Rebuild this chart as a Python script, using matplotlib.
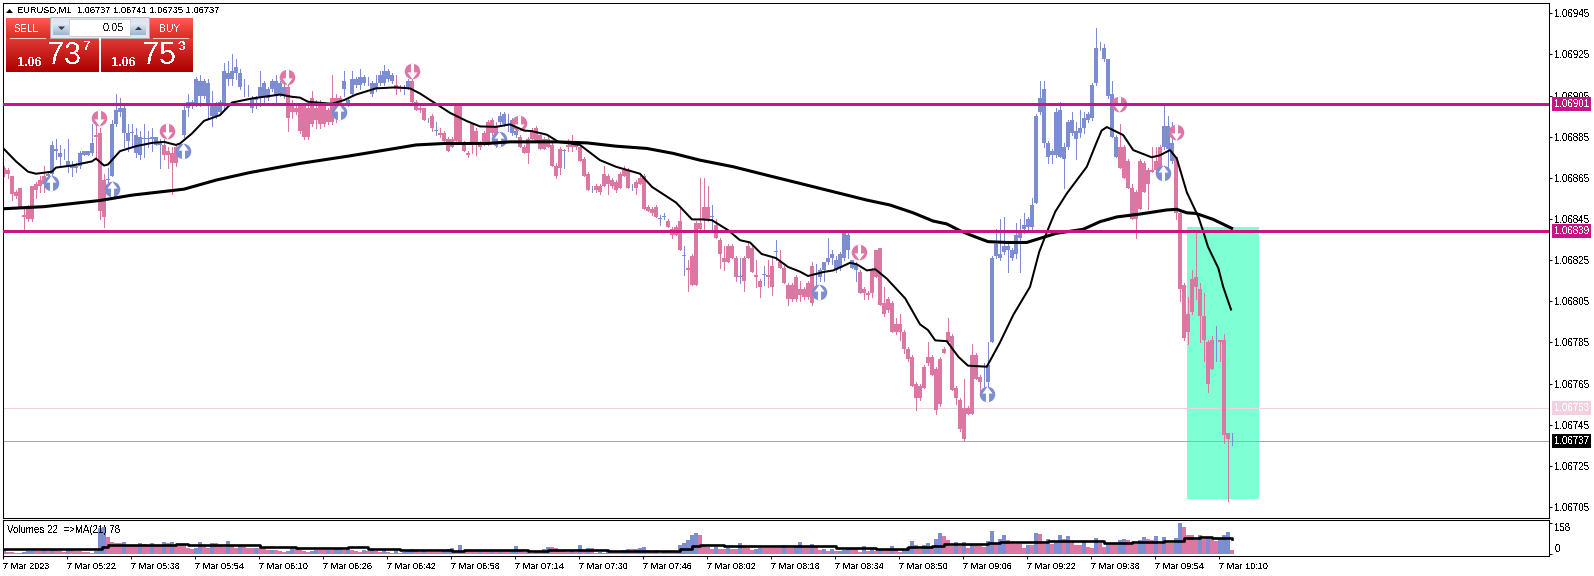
import numpy as np
import matplotlib
matplotlib.use('Agg')
import matplotlib.pyplot as plt
from matplotlib.path import Path
from matplotlib.patches import Rectangle, Polygon
from matplotlib.transforms import blended_transform_factory

plt.rcParams['font.family'] = ['Liberation Sans', 'DejaVu Sans']
plt.rcParams['text.antialiased'] = False

# prices are kept as fifth-decimal points above 1.06, so 737 is 1.06737
opens = [870,869,866,858,860,847,850,861,862,864, 866,866,867,878,875,875,871,870,870,871,
         876,876,877,886,887,864,864,866,891,897, 887,883,887,877,876,884,884,884,881,881,
         881,878,877,880,877,886,899,900,901,905, 905,901,895,895,897,900,913,913,916,909,
         909,908,899,903,904,905,904,908,905,906, 905,909,900,899,900,900,899,904,899,901,
         900,898,904,904,904,908,901,906,910,910, 911,912,906,908,911,911,913,912,910,909,
         908,909,912,902,899,899,893,895,888,887, 887,884,884,900,900,882,877,891,888,882,
         887,892,893,890,892,891,894,887,886,885, 880,884,888,889,886,884,884,881,871,879,
         878,881,881,881,880,874,867,860,861,861, 867,866,864,863,867,869,869,860,863,865,
         866,851,850,851,845,846,844,840,841,844, 827,821,827,843,843,851,851,846,842,835,
         826,832,832,826,817,826,832,831,818,815, 818,818,822,829,824,821,813,813,817,811,
         811,814,822,820,817,820,824,826,820,821, 826,830,821,820,819,811,809,820,830,831,
         804,806,804,794,794,790,782,778,765,764, 773,778,778,772,777,782,790,788,763,757,
         753,753,779,779,768,769,766,785,827,826, 829,830,826,828,836,840,841,841,853,897,
         882,875,876,876,875,874,880,887,884,887, 889,893,894,911,928,923,905,885,875,880,
         880,873,860,858,873,872,869,869,873,880, 880,879,873,875,848,813,799,816,817,811,
         798,785,786,785,786,786,741,737]
closes = [867,867,857,856,851,846,845,845,859,861, 862,867,881,879,877,875,873,871,871,877,
          878,878,882,885,849,846,864,891,898,899, 899,887,887,886,885,884,884,885,885,882,
          876,876,872,872,880,898,902,902,913,912, 912,911,900,901,902,917,916,917,919,916,
          909,908,904,904,909,911,908,912,912,911, 909,894,897,897,888,885,885,891,893,891,
          891,892,892,894,898,912,903,913,913,914, 914,912,911,911,915,917,917,915,908,908,
          909,912,902,898,898,893,893,889,888,886, 883,878,880,883,882,878,876,881,881,880,
          882,882,887,881,895,896,894,893,888,880, 877,877,884,883,879,879,880,871,866,870,
          878,880,880,880,873,866,859,860,859,858, 861,862,861,859,860,866,860,860,860,862,
          850,849,848,846,845,846,841,837,837,830, 827,820,813,813,840,845,845,846,836,828,
          824,824,826,817,817,815,826,819,817,812, 818,817,812,829,821,814,806,806,806,808,
          807,807,804,820,820,824,826,828,825,828, 838,837,825,823,809,809,808,809,817,803,
          799,801,790,790,790,782,777,764,758,758, 763,775,769,752,755,780,785,762,758,743,
          738,750,750,767,766,769,774,826,833,828, 832,832,830,837,838,842,845,852,895,904,
          908,882,878,897,898,880,892,893,888,889, 894,896,910,928,928,928,923,906,885,870,
          865,860,845,845,850,858,862,868,869,869, 890,890,882,848,811,787,790,800,812,798,
          786,765,772,785,785,740,738,737]
highs = [871,870,866,859,860,851,852,861,863,866, 871,868,883,884,881,879,884,873,872,878,
         878,878,891,892,889,867,870,893,906,904, 900,891,891,889,888,891,888,889,885,884,
         884,880,880,881,881,900,906,903,914,915, 913,913,907,902,903,921,922,925,923,918,
         913,910,905,905,917,912,909,913,915,912, 912,913,903,900,900,901,900,907,903,903,
         901,899,915,906,905,917,904,917,914,918, 915,914,912,915,917,920,918,916,915,910,
         910,913,913,903,900,899,894,896,892,889, 888,885,885,900,900,883,878,891,889,883,
         888,893,894,892,897,897,896,894,889,886, 881,885,889,890,887,885,885,882,872,880,
         879,884,886,882,881,875,868,861,862,862, 871,867,865,864,868,871,870,862,864,866,
         867,852,851,852,847,848,845,841,842,850, 832,825,828,844,865,865,861,852,845,836,
         832,833,833,827,826,827,834,832,825,816, 822,825,827,835,830,822,814,814,818,815,
         812,815,824,823,821,824,836,830,827,829, 839,838,825,824,820,812,810,821,830,831,
         812,807,805,797,799,791,783,779,766,765, 774,785,779,773,778,783,797,789,764,758,
         767,754,784,780,769,775,785,827,840,845, 846,833,831,843,845,848,846,855,896,912,
         912,883,879,899,902,882,893,897,892,898, 897,897,911,938,931,930,923,912,886,891,
         881,874,862,859,874,873,870,880,880,881, 901,895,892,875,850,814,807,820,839,814,
         809,786,788,793,786,789,741,741]
lows = [866,865,854,855,851,839,844,844,855,858, 858,864,866,874,871,874,868,866,868,870,
        876,876,876,875,845,841,860,866,890,895, 880,878,880,875,874,875,880,878,881,870,
        874,870,857,871,876,885,895,899,900,900, 904,894,890,894,896,898,910,910,913,908,
        905,905,897,899,900,901,903,907,902,905, 904,888,894,896,887,884,884,890,889,889,
        890,891,891,892,897,905,900,905,909,908, 910,910,905,907,910,910,912,911,906,907,
        906,908,902,898,897,893,892,888,886,885, 883,878,880,883,882,878,875,877,876,879,
        881,881,886,880,891,890,888,886,885,880, 877,872,884,883,879,879,880,871,865,867,
        870,878,878,879,873,866,859,858,858,857, 861,857,860,858,860,866,860,859,857,862,
        850,849,847,846,842,845,841,836,837,830, 818,810,813,813,840,840,844,840,836,821,
        820,824,826,815,814,810,826,819,812,807, 813,812,808,825,821,814,803,805,805,805,
        806,806,803,812,815,815,823,823,819,820, 825,826,821,815,809,806,806,807,817,803,
        798,800,790,789,786,780,776,764,752,757, 763,774,769,750,754,780,784,762,755,742,
        737,750,750,767,761,761,764,785,826,825, 828,819,825,826,819,838,840,840,853,896,
        880,872,872,875,875,860,879,886,874,885, 887,892,893,910,927,922,904,885,875,870,
        865,860,845,836,850,858,850,868,869,869, 879,870,872,845,805,786,784,799,806,785,
        776,761,772,776,776,736,708,735]

volumes = [18,12,8,6,6,10,14,16,16,14, 18,14,20,20,16,12,27,18,14,14, 12,10,6,14,130,136,
           85,60,56,56,62,48,44,42,56,50,40,55,48,40,60,55,60,48,48,46,33,24,33,60,40,
           33,55,55,44,37,64,40,31,44,44,33,29,33,33,29,18,22,20,13,9,15,29,26,24,13,
           9,15,22,20,20,22,22,26,31,22,29,20,15,11,22,13,20,15,11,18,11,7,18,
           5,10,14,26,17,9,14,9,9,9,9,14,26,31,14,46,17,17,17,17,22,14,14,17,14,17,17,17,22,41,
           19,9,12,5,14,14,26,36,36,31,17,14,9,19,9,46,19,31,31,7,12,7,14,14,14,14,19,24,24,26,
           31,36,19,14,19,7,9,9,9,17,46,56,73,99,107,97,43,36,26,36,26,26,31,26,26,56,39,29,22,26,
           31,31,31,31,31,31,46,31,31,37,61,
           36,36,51,36,19,26,14,26,14,17,20,26,26,26,10,39,17,26,14,26,26,26,39,26,10,20,37,65,44,26,
           44,56,31,77,107,90,70,43,61,43,61,31,44,44,39,36,65,116,56,77,95,70,53,53,53,31,48,48,107,102,
           53,77,53,60,97,77,92,65,46,46,65,36,31,82,56,36,51,51,51,71,77,71,51,51,71,87,77,70,92,51,
           87,56,56,82,158,138,97,97,71,97,77,87,77,66,82,97,112,22]

fast_ma_idx = [0,3,6,8,12,13,17,22,23,25,26,29,33,37,40,43,44,47,50,54,57,62,69,72,74,76,82,85,88,93,
               98,101.5,104,108,111.5,115.7,119,123,126.5,130,132,135.7,138.6,144,149,153,159,162,168,172,
               174.4,177,181,184,186.5,189.4,193,196,199,201,204.8,207.3,209.4,211.5,213.2,215.7,217.8,220.7,
               225.3,229,231,232.8,235.7,238.6,241,245.7,249,252.3,256.5,258.8,261,262.8,265.7,270.7,273.2,
               274.4,275.7,279.8,282.3,286.9,289,291.5,293.2,295.7,298.6,299.8,301,303.6,304.8,306.75]
fast_ma = [879,873,868,867,868,870,871,873,874.4,871,871.5,878,880.4,882,882.5,881,881.7,886.6,892.7,895.5,
           901.6,903.6,905.5,904.4,904,902,901,902.8,905.5,908.5,
           909,908.5,906,901,896.6,892.6,890,889.8,891,888,887.7,886,882.5,881,873.6,870.4,867,860.6,853,844.8,
           844.8,844.4,839.6,834.7,833.6,828,826,821.7,819.4,817.3,819.2,820,821.8,823.7,823,820,820.6,816,
           806.4,793.8,791,786,785.6,778,773.7,773.2,785,798.3,812,829,840,848.5,857.4,870.4,882.5,
           888,889.7,885.8,878.5,875,876,878.5,874.4,858,846,839,831.5,821,812,801]

slow_ma_idx = [0,10,24,32,45,53,61.5,74,86.5,99,103,110,120.7,126.5,138,145.7,153,160.7,167.3,174,182.3,190.7,199,
               215.7,221.5,227.3,232.3,235.7,239,242.3,246,250.7,255.7,259,263,269.8,274,278.2,284,290.7,293.2,
               295.7,298,302.3,306.9]
slow_ma = [850,851,854,856.6,859.5,863.9,867.6,872,875.7,879.7,881,881.7,881.7,882.5,882.5,882,880.4,879.3,876.9,
           873.6,870.4,866.3,862.3,854.2,851.8,848,844,842.6,839.3,836.7,834,833.6,833.6,835.6,838,840,843.7,846,
           847.4,849.4,849.7,848,847.7,844.8,840.5]

vol_ma_idx = [0,23,24.5,26,43,46,58,64,73,86,91,99,112,115,131,136,150,151,163,169,172,174,180,184,190,199,204,
              208,217,218,224,226,232,235,246,249,254,257,261,270,275,282,290,293,295,299,302,307]
vol_ma = [25,25,37,46,51,48,48,37,29,34,25,18,15,20,17,22,22,17,17,27,41,46,43,39,39,42,42,
          31,31,27,27,34,39,51,56,63,60,60,65,65,58,61,68,68,82,88,80,78]

arrow_up_idx = [11.75,26.9,83.75,44.8,123.8,203.8,245.8,289.8]
arrow_up_val = [862.5,859.5,897,878,883.7,809.7,760,867.5]
arrow_down_idx = [23.8,40.8,70.8,102,128.8,213.8,278.8,292.9]
arrow_down_val = [894,888,914,917,891.5,829,900.7,887.4]

time_labels = ['7 Mar 2023','7 Mar 05:22','7 Mar 05:38','7 Mar 05:54','7 Mar 06:10','7 Mar 06:26','7 Mar 06:42',
               '7 Mar 06:58','7 Mar 07:14','7 Mar 07:30','7 Mar 07:46','7 Mar 08:02','7 Mar 08:18','7 Mar 08:34',
               '7 Mar 08:50','7 Mar 09:06','7 Mar 09:22','7 Mar 09:38','7 Mar 09:54','7 Mar 10:10']
price_ticks = [1.06705,1.06725,1.06745,1.06765,1.06785,1.06805,1.06825,1.06845,1.06865,1.06885,1.06905,1.06925,1.06945]
level_prices = [1.06901,1.06839]
bid_price = 1.06737
ask_price = 1.06753
box_left, box_right = 295.75, 313.75
box_top, box_bottom = 1.06841, 1.06709

BLUE = '#7c8dd2'
PINK = '#dc76a3'
MAGENTA = '#c71585'
W, H = 1594, 576


def px_axes(fig, left, top, right, bottom):
    return fig.add_axes([left / W, 1 - bottom / H, (right - left) / W, (bottom - top) / H])


def to_price(points):
    return 1.06 + np.asarray(points, dtype=float) / 100000


def round_marker(up):
    pts = [(-0.17, -0.85), (-0.17, 0.1), (-0.55, 0.1), (0, 0.85), (0.55, 0.1), (0.17, 0.1), (0.17, -0.85), (-0.17, -0.85)]
    if not up:
        pts = [(x, -y) for x, y in pts]
    return Path(pts)


fig = plt.figure(figsize=(W / 100, H / 100), dpi=100, facecolor='white')
ax = px_axes(fig, 2.5, 3, 1548.5, 518)
ax_vol = px_axes(fig, 2.5, 520, 1548.5, 555.5)

# ---- candles ----
o = to_price(opens)
c = to_price(closes)
hi = to_price(highs)
lo = to_price(lows)
idx = np.arange(len(opens))
up = c >= o
colors = [BLUE if u else PINK for u in up]

ax.add_patch(Rectangle((box_left, box_bottom), box_right - box_left, box_top - box_bottom,
                       fc='#7fffd4', ec='none', zorder=0.5))
ax.axhline(ask_price, color='#f4cfe0', lw=0.6, zorder=1, antialiased=False)
ax.axhline(bid_price, color='#a9a9a9', lw=0.6, zorder=1.2, antialiased=False)

ax.vlines(idx, lo, hi, colors=colors, lw=0.6, zorder=2, antialiased=False)
ax.bar(idx, np.maximum(np.abs(c - o), 0.000003), bottom=np.minimum(o, c), width=1.0,
       color=colors, lw=0, zorder=2.1, antialiased=False)

ax.scatter(arrow_up_idx, to_price(arrow_up_val), s=125, c=BLUE, lw=0, zorder=2.5)
ax.scatter(arrow_up_idx, to_price(arrow_up_val), s=125, c='white', marker=round_marker(True), lw=0, zorder=2.6)
ax.scatter(arrow_down_idx, to_price(arrow_down_val), s=125, c=PINK, lw=0, zorder=2.5)
ax.scatter(arrow_down_idx, to_price(arrow_down_val), s=125, c='white', marker=round_marker(False), lw=0, zorder=2.6)

ax.plot(fast_ma_idx, to_price(fast_ma), color='black', lw=1.45, zorder=3, solid_joinstyle='round')
ax.plot(slow_ma_idx, to_price(slow_ma), color='black', lw=2.2, zorder=3.1, solid_joinstyle='round')

for lvl in level_prices:
    ax.axhline(lvl, color=MAGENTA, lw=1.9, zorder=4, antialiased=False)

ax.set_xlim(-0.375, 386.125)
ax.set_ylim(1.0669965, 1.0695)
ax.set_xticks([])
ax.yaxis.tick_right()
ax.set_yticks(price_ticks)
ax.set_yticklabels(['%.5f' % t for t in price_ticks])
ax.tick_params(axis='y', length=2.2, width=0.75, pad=2, labelsize=7)

# price tags on the right side of the scale
tag_tf = blended_transform_factory(ax.transAxes, ax.transData)
tags = [(level_prices[0], MAGENTA, 'white'), (level_prices[1], MAGENTA, 'white'),
        (ask_price, '#f4cfe0', 'white'), (bid_price, 'black', 'white')]
for price, bg, fg in tags:
    ax.text(1.00355, price, '%.5f' % price, transform=tag_tf, color=fg, fontsize=7, va='center', ha='left',
            clip_on=False, zorder=10,
            bbox=dict(boxstyle='square,pad=0.2', fc=bg, ec='none'))

# ---- volumes ----
vol_colors = [BLUE]
for k in range(1, len(volumes)):
    vol_colors.append(BLUE if volumes[k] > volumes[k - 1] else PINK)
ax_vol.bar(idx, volumes, width=1.0, color=vol_colors, lw=0, antialiased=False)
ax_vol.plot(vol_ma_idx, vol_ma, color='black', lw=1.9, drawstyle='steps-post')
ax_vol.set_xlim(-0.375, 386.125)
ax_vol.set_ylim(-7.6, 173)
ax_vol.yaxis.tick_right()
ax_vol.set_yticks([0, 158])
ax_vol.set_yticklabels(['0', '158'])
ax_vol.get_yticklabels()[0].set_va('bottom')
ax_vol.get_yticklabels()[1].set_va('top')
ax_vol.tick_params(axis='y', length=2.2, width=0.75, pad=2, labelsize=7)
tick_idx = np.arange(len(time_labels)) * 16 - 0.25
ax_vol.set_xticks(tick_idx)
ax_vol.set_xticklabels(time_labels, ha='left')
ax_vol.tick_params(axis='x', length=2.5, width=0.75, pad=2.5, labelsize=6.6)
ax_vol.text(0.003, 0.72, 'Volumes 22  =>MA(21) 78', transform=ax_vol.transAxes, fontsize=7, va='center', zorder=10)

for a in (ax, ax_vol):
    for s in a.spines.values():
        s.set_linewidth(0.75)

# ---- trade panel and header drawn in pixel coordinates ----
top = fig.add_axes([0, 0, 1, 1], facecolor='none', zorder=20)
top.set_xlim(0, W)
top.set_ylim(H, 0)
top.axis('off')


def gradient(x0, x1, y0, y1, c0, c1, z=1):
    rgb0 = np.array(matplotlib.colors.to_rgb(c0))
    rgb1 = np.array(matplotlib.colors.to_rgb(c1))
    t = np.linspace(0, 1, 32)[:, None, None]
    img = rgb0[None, None, :] * (1 - t) + rgb1[None, None, :] * t
    top.imshow(img, extent=(x0, x1, y1, y0), aspect='auto', interpolation='bilinear', zorder=z)


top.add_patch(Polygon([[6, 13], [13, 13], [9.5, 9]], closed=True, fc='black', ec='none'))
top.text(17.5, 10.5, 'EURUSD,M1  1.06737 1.06741 1.06735 1.06737', fontsize=6.7, va='center', color='black')

gradient(6, 99, 18, 38, '#ff5a50', '#d92c26')
gradient(6, 99, 38, 72, '#e03a36', '#ac0000')
gradient(101, 193, 18, 38, '#ff5a50', '#d92c26')
gradient(101, 193, 38, 72, '#e03a36', '#ac0000')
top.add_patch(Rectangle((50, 17), 99, 21, fc='#dfe6ef', ec='#a8b0bb', lw=0.6, zorder=2))
top.add_patch(Rectangle((69, 19), 61, 17, fc='white', ec='#c8ced6', lw=0.6, zorder=3))
gradient(53, 69, 23, 35, '#e3ebf6', '#9db4d2', z=3)
gradient(130, 146, 23, 35, '#e3ebf6', '#9db4d2', z=3)
top.add_patch(Polygon([[58, 26.5], [65, 26.5], [61.5, 30]], closed=True, fc='#333b46', ec='none', zorder=4))
top.add_patch(Polygon([[135, 30], [142, 30], [138.5, 26.5]], closed=True, fc='#333b46', ec='none', zorder=4))
top.plot([10, 45], [38, 38], color='#f5c8c4', lw=0.8, zorder=3)
top.plot([153, 188], [38, 38], color='#f5c8c4', lw=0.8, zorder=3)
top.plot([99.9, 99.9], [38, 72], color='white', lw=1.4, zorder=3)

top.set_xlim(0, W)
top.set_ylim(H, 0)
top.text(26.5, 29, 'SELL', color='white', fontsize=7.5, ha='center', va='center', zorder=5)
top.text(170, 29, 'BUY', color='white', fontsize=7.5, ha='center', va='center', zorder=5)
top.text(124.5, 28, '0.05', color='#222222', fontsize=8, ha='right', va='center', zorder=5)
top.text(17, 63.5, '1.06', color='white', fontsize=9, fontweight='bold', va='center', zorder=5)
top.text(47, 56, '73', color='white', fontsize=22, va='center', zorder=5)
top.text(87, 47.5, '7', color='white', fontsize=9.5, fontweight='bold', ha='center', va='center', zorder=5)
top.text(111, 63.5, '1.06', color='white', fontsize=9, fontweight='bold', va='center', zorder=5)
top.text(142, 56, '75', color='white', fontsize=22, va='center', zorder=5)
top.text(181, 47.5, '3', color='white', fontsize=9.5, fontweight='bold', ha='center', va='center', zorder=5)

fig.savefig('out.png', dpi=100, facecolor='white')
